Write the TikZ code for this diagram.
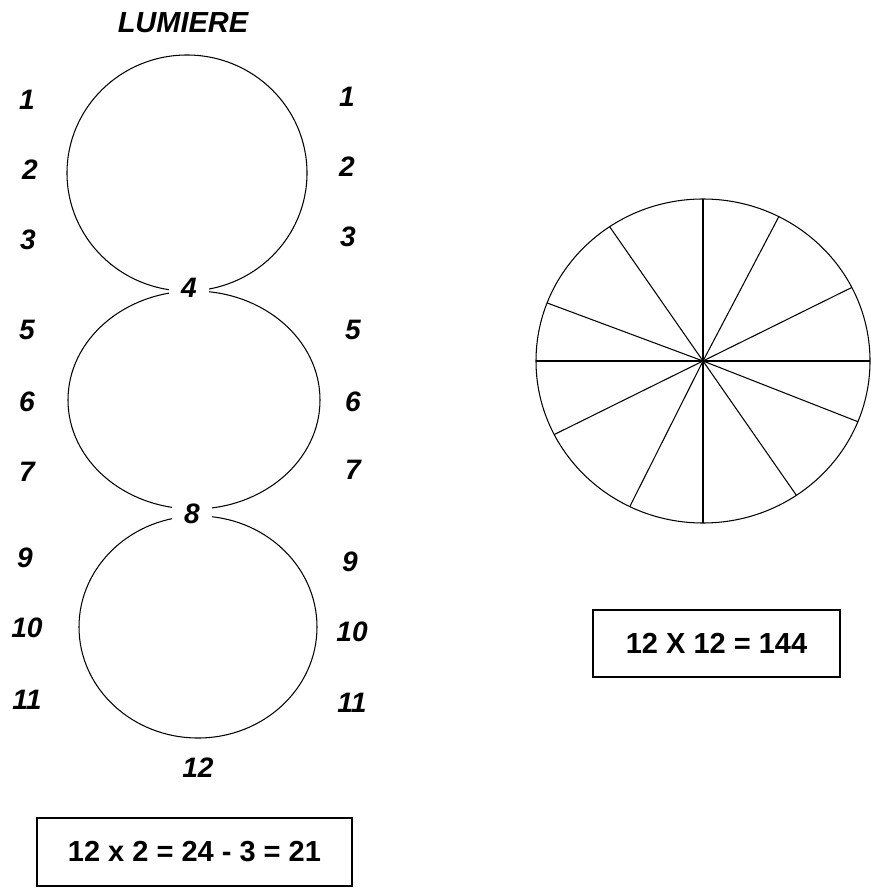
\documentclass[tikz,border=0pt]{standalone}
\usepackage{fontspec}
\setmainfont{Liberation Sans}

\begin{document}
\begin{tikzpicture}[x=0.02cm,y=-0.02cm,
  num/.style={font=\fontsize{16}{17}\selectfont\bfseries\itshape,inner sep=1pt},
  pinch/.style={num,fill=white,minimum width=23pt},
  loop/.style={line width=.6pt},
  spoke/.style={line width=.6pt},
  sumbox/.style={draw,line width=.7pt,font=\fontsize{16.5}{17}\selectfont\bfseries}
]
  \useasboundingbox (0,0) rectangle (871,888);
  \node[num,font=\fontsize{16.5}{17}\selectfont\bfseries\itshape] (title) at (183,23) {LUMIERE};
  % the three loops
  \draw[loop] (187,173) ellipse [x radius=120, y radius=118];
  \draw[loop] (194,400) ellipse [x radius=126, y radius=109];
  \draw[loop] (198,627) ellipse [x radius=119, y radius=111];
  \node[pinch] (n4) at (189,288) {4};
  \node[pinch] (n8) at (192,514) {8};
  \node[num] (n12) at (198,768) {12};
  \foreach \n/\xl/\yl/\xr/\yr in {1/27/100/347/97, 2/30/170/347/167, 3/28/240/348/237,
      5/27/330/353/330, 6/27/402/353/402, 7/27/472/353/470,
      9/25/558/350/562, 10/27/628/352/632, 11/27/700/352/703}{
    \node[num] (l\n) at (\xl,\yl) {\n};
    \node[num] (r\n) at (\xr,\yr) {\n};
  }
  % wheel
  \coordinate (hub) at (703,361);
  \draw[loop] (hub) ellipse [x radius=167, y radius=162];
  \foreach \a in {0,27,63,90,124,159,180,207,244,270,304,338}
    \draw[spoke] (hub) -- ++(-\a:167 and 162);
  \node[sumbox,minimum width=4.94cm,minimum height=1.34cm] (prod) at (716.5,643.5) {12 X 12 = 144};
  \node[sumbox,minimum width=6.3cm,minimum height=1.36cm] (calc) at (194.5,852) {12 x 2 = 24 - 3 = 21};
\end{tikzpicture}
\end{document}
